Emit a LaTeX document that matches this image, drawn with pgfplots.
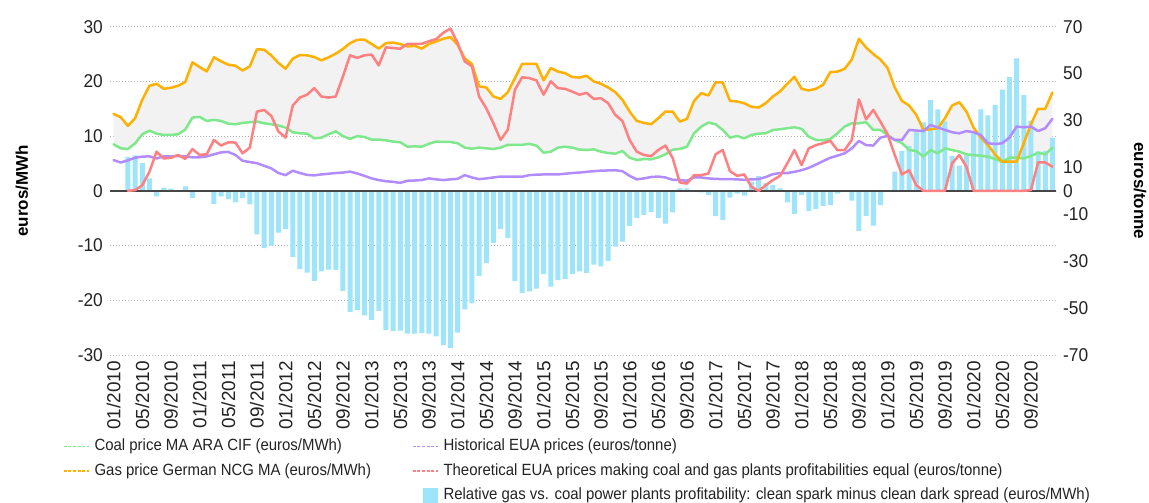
\documentclass[border=0pt]{standalone}
\usepackage{pgfplots}
\pgfplotsset{compat=1.18}
\usepackage{pgfplotstable}
\usepgfplotslibrary{fillbetween}
\usepackage{fontspec}
\setmainfont{Liberation Sans}
\newfontfamily\legfont{Liberation Sans}[FakeStretch=0.92]
\newfontfamily\tickfont{Liberation Sans}[FakeStretch=0.935]
\definecolor{coalc}{RGB}{128,232,140}
\definecolor{gasc}{RGB}{255,176,0}
\definecolor{histc}{RGB}{178,140,255}
\definecolor{theoc}{RGB}{255,128,128}
\definecolor{barc}{RGB}{158,228,250}
\definecolor{fillc}{RGB}{242,242,242}
\definecolor{gridc}{RGB}{175,175,175}
\definecolor{zeroc}{RGB}{70,70,70}
\definecolor{txtc}{RGB}{35,35,35}
\pgfplotstableread{
m coal gas hist theo bar
0 8.50 14.07 13.1 nan nan
1 7.77 13.46 12.1 nan nan
2 7.65 11.87 13.0 0.0 6.2
3 8.69 13.27 14.1 0.3 6.5
4 10.34 16.64 14.6 2.4 5.1
5 11.00 19.20 14.7 8.1 2.3
6 10.46 19.57 13.8 16.7 -1.0
7 10.21 18.65 14.7 13.8 0.6
8 10.21 18.84 14.7 14.1 0.4
9 10.34 19.20 14.8 15.3 0.0
10 11.19 19.88 14.7 13.6 0.8
11 13.39 23.49 14.3 17.8 -1.3
12 13.52 22.63 14.3 15.3 0.1
13 12.78 21.83 14.7 15.6 0.0
14 12.97 24.40 15.6 21.7 -2.4
15 12.78 23.67 16.4 19.3 -1.0
16 12.29 23.06 16.6 20.7 -1.5
17 12.17 22.87 15.3 20.6 -2.1
18 12.42 22.00 12.8 16.0 -1.3
19 12.54 22.75 12.3 18.4 -2.45
20 12.66 25.87 11.8 33.8 -7.95
21 12.35 25.81 10.7 34.5 -10.45
22 12.17 24.77 9.6 32.0 -10.0
23 11.93 23.36 7.6 25.3 -7.65
24 11.56 22.32 6.7 22.7 -6.95
25 10.70 24.16 8.6 36.4 -12.05
26 10.52 24.83 7.6 39.8 -14.25
27 10.46 24.77 6.8 41.0 -14.95
28 9.60 24.46 6.6 43.8 -16.45
29 9.72 23.85 7.0 40.2 -14.7
30 10.34 24.40 7.3 39.8 -14.4
31 10.89 25.08 7.6 40.2 -14.45
32 10.00 25.93 7.8 48.8 -18.3
33 9.50 27.00 8.2 57.8 -22.1
34 10.00 27.60 7.4 56.7 -21.8
35 9.85 27.65 6.4 57.8 -22.75
36 9.36 26.85 5.3 58.1 -23.6
37 9.36 26.00 4.6 53.5 -21.95
38 9.24 27.00 4.1 61.2 -25.4
39 9.00 27.10 3.85 60.9 -25.6
40 8.87 26.85 3.4 60.6 -25.55
41 8.07 26.40 4.3 62.7 -26.1
42 8.13 26.50 4.4 62.7 -26.1
43 8.07 26.00 4.6 62.7 -26.0
44 8.60 26.85 5.3 63.8 -26.1
45 9.00 27.30 4.9 64.7 -26.6
46 8.93 27.80 4.6 67.4 -28.2
47 8.93 28.10 4.9 69.2 -28.75
48 8.70 26.70 5.1 63.1 -25.9
49 7.90 24.20 6.7 55.2 -21.65
50 7.70 23.20 5.7 53.1 -20.55
51 7.90 19.10 5.0 40.2 -15.55
52 7.77 18.90 5.3 35.2 -13.2
53 7.65 17.25 5.7 28.8 -9.5
54 7.90 16.80 6.1 21.7 -6.95
55 8.40 18.00 6.1 26.0 -8.65
56 8.40 20.60 6.1 43.1 -16.5
57 8.40 23.20 6.0 48.4 -18.7
58 8.60 23.20 6.7 48.1 -18.35
59 8.26 23.20 6.9 47.1 -17.86
60 6.97 20.20 7.0 41.0 -15.2
61 7.16 22.45 7.0 46.7 -17.5
62 7.90 21.80 7.0 43.8 -16.3
63 8.07 21.50 7.3 43.5 -16.1
64 7.90 20.80 7.6 42.3 -15.2
65 7.55 20.70 7.8 41.0 -14.7
66 7.46 21.04 8.1 41.8 -15.0
67 7.58 20.00 8.4 39.2 -13.5
68 7.16 19.57 8.6 39.5 -13.8
69 6.91 18.90 8.7 37.4 -12.8
70 6.79 18.04 8.8 32.4 -10.2
71 7.28 16.64 8.4 29.8 -9.3
72 6.06 14.50 6.4 21.7 -6.4
73 5.63 12.78 4.9 16.7 -4.95
74 5.81 12.42 5.3 15.3 -4.4
75 5.75 12.17 5.9 14.8 -3.9
76 6.12 13.27 6.1 17.4 -4.95
77 6.67 14.50 5.7 19.3 -6.0
78 7.52 14.50 4.7 14.1 -3.95
79 7.65 12.66 4.6 3.6 0.47
80 8.07 13.15 4.3 3.1 0.47
81 10.52 16.45 5.7 6.7 -0.2
82 11.74 17.86 5.7 6.7 -0.3
83 12.48 17.43 5.3 7.4 -0.8
84 12.17 19.82 5.1 15.6 -4.6
85 11.13 19.82 5.0 17.4 -5.3
86 9.72 16.45 5.0 8.4 -1.25
87 10.03 16.33 4.9 6.4 -0.5
88 9.60 16.02 4.7 7.0 -0.85
89 10.21 15.35 4.9 1.7 1.7
90 10.46 15.23 5.0 0.0 2.7
91 10.52 16.02 5.9 2.4 1.4
92 11.13 17.25 7.1 4.6 1.1
93 11.25 18.17 7.6 6.4 0.43
94 11.44 19.57 7.6 11.7 -2.1
95 11.62 20.86 8.1 17.4 -4.2
96 11.32 18.65 8.8 11.0 -0.8
97 9.90 18.35 9.8 18.1 -3.7
98 9.30 18.65 11.2 19.5 -3.3
99 9.24 19.40 12.7 20.3 -2.75
100 9.48 21.70 14.1 21.3 -2.6
101 10.52 21.80 15.0 17.4 -0.5
102 11.74 22.30 16.0 17.4 0.0
103 12.35 24.00 18.1 21.7 -1.8
104 12.35 27.80 21.3 39.0 -7.3
105 12.54 26.20 19.5 30.5 -4.6
106 11.13 25.00 19.3 34.5 -6.35
107 11.13 24.00 22.7 29.5 -2.6
108 10.21 22.45 23.4 24.1 0.0
109 9.30 18.90 21.7 15.3 3.5
110 8.75 16.45 21.7 7.0 7.3
111 7.46 15.60 26.0 8.8 8.2
112 7.28 13.90 25.7 2.4 10.7
113 6.24 11.13 25.5 0.0 12.5
114 7.46 11.25 28.1 0.0 16.6
115 6.85 11.44 27.0 0.0 14.9
116 7.77 13.27 26.0 0.0 12.7
117 7.46 15.60 25.0 11.7 6.4
118 7.16 16.20 24.5 15.3 4.6
119 6.67 14.50 25.5 10.3 6.5
120 6.54 11.56 25.0 0.0 10.5
121 6.42 9.72 23.8 0.0 14.9
122 6.24 8.38 20.3 0.0 13.8
123 5.81 6.67 20.0 0.0 15.7
124 5.32 5.32 20.3 0.0 18.5
125 6.06 5.32 22.7 0.0 20.8
126 6.06 5.32 27.4 0.0 24.2
127 5.93 8.69 27.1 0.0 17.5
128 6.36 12.17 27.4 0.3 12.8
129 6.97 15.00 25.5 12.1 7.2
130 6.67 15.00 26.7 12.1 7.3
131 7.89 17.98 30.7 10.3 9.7
}\data

\pgfplotsset{
  base/.style={
    at={(0,0)}, anchor=south west,
    scale only axis, width=946bp, height=328.3bp,
    xmin=-0.5, xmax=131.5,
    axis line style={draw=none},
    major tick length=0pt,
    /pgf/number format/assume math mode=true,
    every axis plot/.append style={line join=round, line cap=round},
    legend cell align=left,
    legend image code/.code={\draw[#1, line width=1.6bp, line cap=butt, dash pattern=on 3bp off 1.6bp] (0bp,0bp) -- (25bp,0bp);},
  },
  legsty/.style={
    draw=none, fill=none, inner sep=0pt, outer sep=0pt,
    font=\legfont\fontsize{16.3}{16.3}\selectfont, text=txtc,
    row sep=10.5bp, column sep=5bp,
    nodes={inner sep=0pt, text height=11bp, text depth=3bp},
  },
}

\begin{document}
\begin{tikzpicture}
\begin{axis}[base,
  ymin=-30, ymax=30,
  ytick={-30,-20,...,30},
  ymajorgrids,
  grid style={gridc, line width=0.9bp, dash pattern=on 1bp off 2bp},
  yticklabel style={font=\tickfont\fontsize{18.6}{18.6}\selectfont, text=txtc, inner xsep=7bp},
  xtick={0,4,...,128},
  xticklabels={01/2010,05/2010,09/2010,01/2011,05/2011,09/2011,01/2012,05/2012,09/2012,01/2013,05/2013,09/2013,01/2014,05/2014,09/2014,01/2015,05/2015,09/2015,01/2016,05/2016,09/2016,01/2017,05/2017,09/2017,01/2018,05/2018,09/2018,01/2019,05/2019,09/2019,01/2020,05/2020,09/2020},
  xticklabel style={rotate=90, anchor=east, font=\fontsize{19}{19}\selectfont, text=txtc, inner xsep=6bp, inner ysep=0pt},
  ylabel={euros/MWh},
  ylabel style={font=\bfseries\fontsize{17}{17}\selectfont, at={(axis description cs:-0.093,0.5)}, anchor=center},
  legend style={legsty, at={(axis description cs:-0.0497,-0.2574)}, anchor=north west},
]
\addplot[draw=none, name path=gasP, forget plot] table[x=m, y=gas] {\data};
\addplot[draw=none, name path=coalP, forget plot] table[x=m, y=coal] {\data};
\addplot[fillc, forget plot] fill between[of=gasP and coalP];
\addplot[ybar, bar width=5bp, fill=barc, draw=none, forget plot] table[x=m, y=bar] {\data};
\addplot[zeroc, line width=1.5bp, forget plot] coordinates {(-0.5,0) (131.5,0)};
\addplot[coalc, line width=2.5bp] table[x=m, y=coal] {\data};
\addlegendentry{Coal price MA ARA CIF (euros/MWh)}
\addplot[gasc, line width=2.5bp] table[x=m, y=gas] {\data};
\addlegendentry{Gas price German NCG MA (euros/MWh)}
\end{axis}
\begin{axis}[base,
  ymin=-70, ymax=70,
  ytick={-70,-50,-30,-10,0,10,30,50,70},
  axis y line*=right,
  hide x axis,
  yticklabel style={font=\tickfont\fontsize{18.6}{18.6}\selectfont, text=txtc, inner xsep=7bp},
  ylabel={euros/tonne},
  ylabel style={font=\bfseries\fontsize{17}{17}\selectfont, at={(axis description cs:1.0888,0.5)}, anchor=center, rotate=180},
  legend style={legsty, at={(axis description cs:0.3192,-0.2574)}, anchor=north west},
]
\addplot[histc, line width=2.5bp] table[x=m, y=hist] {\data};
\addlegendentry{Historical EUA prices (euros/tonne)}
\addplot[theoc, line width=2.5bp] table[x=m, y=theo] {\data};
\addlegendentry{Theoretical EUA prices making coal and gas plants profitabilities equal (euros/tonne)}
\addlegendimage{draw=none, fill=barc, legend image code/.code={\path[draw=none, fill=none] (0bp,0bp) -- (25bp,0bp); \fill[barc, draw=none, overlay] (10bp,-8bp) rectangle (25bp,8bp);}}
\addlegendentry{Relative gas vs. coal power plants profitability: clean spark minus clean dark spread (euros/MWh)}
\end{axis}
\pgfresetboundingbox
\useasboundingbox (-110bp,-148bp) rectangle (1039bp,355bp);
\end{tikzpicture}
\end{document}
